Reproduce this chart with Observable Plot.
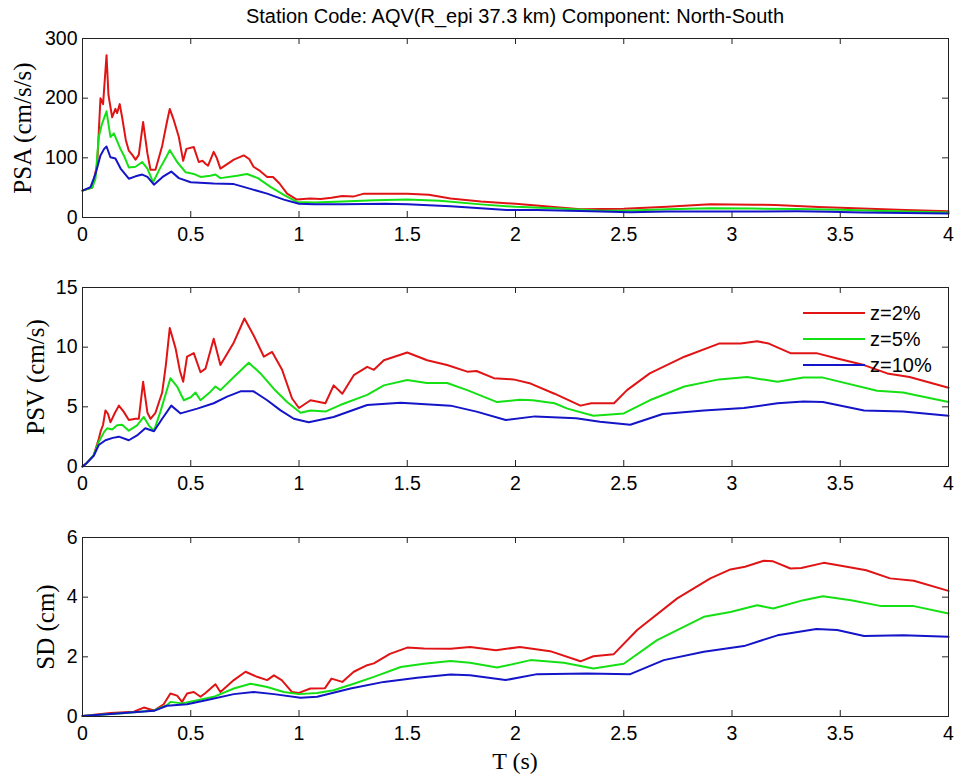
<!DOCTYPE html>
<html>
<head>
<meta charset="utf-8">
<script src="https://cdn.jsdelivr.net/npm/d3@7"></script>
<script src="https://cdn.jsdelivr.net/npm/@observablehq/plot@0.6"></script>
<style>
  body { margin: 0; background: #fff; }
  #wrap { position: relative; width: 955px; height: 778px; background: #fff; overflow: hidden; }
  .panel { position: absolute; left: 0; }
  .ylab { position: absolute; font-family: "Liberation Serif", "Times New Roman", serif; font-size: 25px; white-space: nowrap; transform: translate(-50%, -50%) rotate(-90deg); line-height: 1; color: #000; }
  #title { position: absolute; left: 82px; width: 866px; top: 6px; text-align: center; font-family: "Liberation Sans", Arial, sans-serif; font-size: 20px; line-height: 1; color: #000; white-space: nowrap; }
  #xlab { position: absolute; left: 515px; top: 761px; transform: translate(-50%, -50%); font-family: "Liberation Serif", "Times New Roman", serif; font-size: 24px; line-height: 1; white-space: nowrap; }
</style>
</head>
<body>
<div id="wrap">
  <div id="title">Station Code: AQV(R_epi 37.3 km) Component: North-South</div>
</div>
<script>
// ---------- data ----------
const xTicks = [0, 0.5, 1, 1.5, 2, 2.5, 3, 3.5, 4];
const psaTicks = [0, 100, 200, 300];
const psvTicks = [0, 5, 10, 15];
const sdTicks = [0, 2, 4, 6];
const seriesNames = ["z=2%", "z=5%", "z=10%"];
const seriesColors = ["#e01414", "#14e014", "#1414c8"];
const panelLabels = ["PSA (cm/s/s)", "PSV (cm/s)", "SD (cm)"];
const xLabel = "T (s)";

// PSA (cm/s/s) : [T, value]
const psa2 = [[0,45],[0.045,50],[0.068,90],[0.083,200],[0.095,190],[0.111,272],[0.12,205],[0.137,168],[0.152,182],[0.16,175],[0.172,190],[0.183,168],[0.2,130],[0.214,112],[0.23,105],[0.245,97],[0.26,105],[0.28,160],[0.3,107],[0.314,80],[0.337,80],[0.368,120],[0.39,160],[0.403,182],[0.42,165],[0.445,135],[0.465,95],[0.48,115],[0.514,118],[0.537,93],[0.555,95],[0.568,90],[0.58,87],[0.606,110],[0.62,100],[0.637,82],[0.67,90],[0.699,97],[0.745,104],[0.77,98],[0.79,85],[0.82,78],[0.853,68],[0.88,68],[0.91,57],[0.945,40],[0.99,30],[1.05,32],[1.1,31],[1.15,33],[1.2,36],[1.25,35],[1.3,40],[1.4,40],[1.5,40],[1.6,38],[1.7,32],[1.84,27],[2.0,23],[2.15,18.5],[2.3,14],[2.5,14.6],[2.7,18],[2.9,22],[3.1,21.5],[3.2,21],[3.4,17.6],[3.6,15],[3.8,12.6],[4.0,10.4]];
const psa5 = [[0,45],[0.045,50],[0.06,65],[0.075,135],[0.09,157],[0.111,178],[0.129,135],[0.145,141],[0.16,128],[0.175,115],[0.191,104],[0.214,84],[0.245,85],[0.276,93],[0.3,82],[0.326,59],[0.36,84],[0.385,100],[0.403,113],[0.437,93],[0.476,76],[0.5,74],[0.514,73],[0.545,68],[0.59,70],[0.614,72],[0.637,66],[0.714,70],[0.76,73],[0.81,66],[0.87,51],[0.93,38],[0.99,26],[1.07,25],[1.2,27],[1.35,29],[1.5,30],[1.65,28],[1.84,22],[2.0,18],[2.2,15],[2.4,11.5],[2.5,11.5],[2.7,14],[2.9,15.5],[3.1,15],[3.3,14.2],[3.5,13],[3.7,11],[4.0,8.5]];
const psa10 = [[0,45],[0.037,51],[0.06,73],[0.083,104],[0.1,115],[0.111,119],[0.129,101],[0.152,99],[0.176,82],[0.214,65],[0.245,69],[0.276,72],[0.3,68],[0.33,55],[0.37,68],[0.41,77],[0.445,66],[0.5,59],[0.606,57],[0.699,56],[0.776,48],[0.853,40],[0.93,30],[1.0,23],[1.07,22],[1.2,22],[1.4,23],[1.5,22],[1.7,19],[1.96,12.5],[2.1,12.7],[2.3,11],[2.53,8.7],[2.7,10.2],[2.9,10.2],[3.1,10],[3.3,10.4],[3.45,9.8],[3.6,8.2],[3.8,7.6],[4.0,6.7]];

// PSV (cm/s)
const psv2 = [[0,0],[0.02,0.3],[0.052,0.95],[0.075,2.3],[0.083,2.9],[0.095,3.5],[0.106,4.7],[0.118,4.4],[0.129,3.7],[0.15,4.5],[0.168,5.1],[0.19,4.6],[0.214,3.9],[0.245,4.0],[0.26,4.0],[0.28,7.1],[0.3,4.5],[0.314,4.0],[0.337,4.5],[0.368,6.2],[0.385,8.5],[0.403,11.6],[0.43,9.9],[0.45,8.0],[0.465,7.1],[0.483,9.2],[0.514,9.5],[0.545,7.9],[0.568,8.2],[0.606,10.7],[0.637,8.5],[0.699,10.4],[0.748,12.4],[0.79,11.0],[0.838,9.2],[0.876,9.6],[0.922,8.1],[0.968,5.7],[1.0,4.9],[1.053,5.55],[1.122,5.3],[1.16,6.8],[1.2,6.1],[1.253,7.65],[1.315,8.35],[1.346,8.1],[1.392,8.9],[1.5,9.55],[1.592,8.9],[1.684,8.5],[1.777,7.95],[1.82,8.0],[1.9,7.4],[1.99,7.3],[2.07,6.95],[2.18,6.1],[2.3,5.1],[2.35,5.3],[2.455,5.3],[2.515,6.4],[2.62,7.8],[2.78,9.2],[2.94,10.3],[3.04,10.3],[3.116,10.5],[3.17,10.3],[3.27,9.5],[3.39,9.5],[3.486,9.05],[3.61,8.5],[3.717,7.8],[3.82,7.5],[4.0,6.6]];
const psv5 = [[0,0],[0.02,0.3],[0.052,0.95],[0.075,2.06],[0.1,2.9],[0.114,3.2],[0.137,3.1],[0.16,3.45],[0.183,3.5],[0.214,3.0],[0.252,3.45],[0.283,4.15],[0.306,3.45],[0.33,3.0],[0.36,4.6],[0.406,7.4],[0.437,6.7],[0.468,5.55],[0.5,5.8],[0.522,6.2],[0.545,5.55],[0.59,6.25],[0.614,6.7],[0.637,6.4],[0.699,7.5],[0.768,8.7],[0.822,7.8],[0.884,6.5],[0.945,5.4],[1.007,4.5],[1.053,4.7],[1.122,4.6],[1.19,5.15],[1.315,6.0],[1.392,6.8],[1.5,7.25],[1.59,7.0],[1.684,7.0],[1.777,6.4],[1.915,5.4],[2.02,5.6],[2.08,5.55],[2.18,5.3],[2.24,4.85],[2.36,4.25],[2.5,4.45],[2.62,5.55],[2.78,6.7],[2.94,7.3],[3.07,7.5],[3.21,7.1],[3.33,7.45],[3.42,7.45],[3.67,6.35],[3.79,6.2],[4.0,5.4]];
const psv10 = [[0,0],[0.02,0.3],[0.052,0.9],[0.075,1.8],[0.106,2.2],[0.14,2.4],[0.168,2.5],[0.214,2.2],[0.252,2.6],[0.29,3.2],[0.33,2.95],[0.368,4.0],[0.41,5.1],[0.453,4.45],[0.53,4.85],[0.606,5.3],[0.668,5.85],[0.73,6.3],[0.79,6.3],[0.853,5.55],[0.915,4.7],[0.976,4.0],[1.045,3.7],[1.16,4.15],[1.315,5.15],[1.47,5.35],[1.7,5.1],[1.82,4.6],[1.955,3.9],[2.09,4.2],[2.28,4.05],[2.39,3.75],[2.53,3.5],[2.68,4.4],[2.87,4.7],[3.055,4.9],[3.21,5.3],[3.33,5.45],[3.42,5.4],[3.61,4.7],[3.79,4.6],[4.0,4.25]];

// SD (cm)
const sd2 = [[0,0.02],[0.13,0.12],[0.237,0.16],[0.283,0.3],[0.33,0.2],[0.375,0.41],[0.406,0.77],[0.437,0.7],[0.46,0.49],[0.483,0.77],[0.514,0.82],[0.545,0.66],[0.568,0.79],[0.614,1.08],[0.637,0.82],[0.699,1.22],[0.753,1.5],[0.806,1.33],[0.853,1.22],[0.884,1.38],[0.92,1.22],[0.968,0.82],[0.999,0.79],[1.053,0.94],[1.12,0.95],[1.15,1.27],[1.2,1.16],[1.253,1.5],[1.315,1.72],[1.346,1.78],[1.42,2.1],[1.5,2.31],[1.577,2.28],[1.7,2.27],[1.79,2.33],[1.91,2.22],[2.02,2.33],[2.16,2.19],[2.3,1.85],[2.36,2.02],[2.454,2.09],[2.562,2.9],[2.747,3.96],[2.9,4.63],[2.993,4.93],[3.06,5.02],[3.147,5.22],[3.19,5.2],[3.27,4.96],[3.32,4.98],[3.424,5.15],[3.53,5.02],[3.62,4.9],[3.73,4.63],[3.84,4.55],[4.0,4.21]];
const sd5 = [[0,0.02],[0.2,0.12],[0.33,0.2],[0.39,0.38],[0.406,0.49],[0.46,0.44],[0.514,0.52],[0.606,0.66],[0.699,0.94],[0.776,1.1],[0.853,0.99],[0.93,0.82],[0.999,0.75],[1.084,0.79],[1.16,0.88],[1.253,1.1],[1.346,1.33],[1.47,1.66],[1.577,1.77],[1.7,1.86],[1.79,1.8],[1.915,1.64],[2.07,1.89],[2.223,1.8],[2.36,1.61],[2.5,1.77],[2.654,2.56],[2.87,3.34],[2.993,3.5],[3.116,3.73],[3.19,3.62],[3.33,3.9],[3.42,4.03],[3.55,3.9],[3.69,3.7],[3.84,3.7],[4.0,3.45]];
const sd10 = [[0,0.02],[0.16,0.1],[0.33,0.19],[0.39,0.36],[0.483,0.41],[0.576,0.55],[0.699,0.75],[0.79,0.82],[0.884,0.75],[1.007,0.63],[1.084,0.66],[1.238,0.94],[1.392,1.16],[1.546,1.3],[1.7,1.41],[1.79,1.38],[1.954,1.22],[2.1,1.42],[2.33,1.44],[2.53,1.42],[2.685,1.89],[2.87,2.17],[3.055,2.36],[3.21,2.72],[3.39,2.93],[3.486,2.9],[3.61,2.7],[3.79,2.72],[4.0,2.67]];

// ---------- drawing ----------
const W = 955, ML = 82, MR = 7, MT = 10, MB = 40, FH = 179;
const FW = W - ML - MR;
const TICK = 6;
const wrap = document.getElementById("wrap");

function panel(series, yTicks, frameTop, label, labelX) {
  const yMax = yTicks[yTicks.length - 1];
  const marks = [
    Plot.axisX({ticks: xTicks, tickSize: 0, tickPadding: 10, label: null, tickFormat: d => String(d)}),
    Plot.axisY({ticks: yTicks, tickSize: 0, tickPadding: 5, label: null, tickFormat: d => String(d)}),
    Plot.ruleX(xTicks, {x: d => d, insetBottom: FH - TICK, stroke: "#222"}),
    Plot.ruleX(xTicks, {x: d => d, insetTop: FH - TICK, stroke: "#222"}),
    Plot.ruleY(yTicks, {y: d => d, insetRight: FW - TICK, stroke: "#222"}),
    Plot.ruleY(yTicks, {y: d => d, insetLeft: FW - TICK, stroke: "#222"})
  ];
  series.forEach((s, i) => {
    marks.push(Plot.line(s, {x: d => d[0], y: d => d[1], stroke: seriesColors[i], strokeWidth: 2, curve: "linear"}));
  });
  marks.push(Plot.frame({stroke: "#222", strokeWidth: 1}));
  const svg = Plot.plot({
    width: W, height: MT + FH + MB,
    marginTop: MT, marginBottom: MB, marginLeft: ML, marginRight: MR,
    x: {domain: [0, 4]},
    y: {domain: [0, yMax]},
    style: {fontFamily: '"Liberation Sans", Arial, sans-serif', fontSize: "19.5px", color: "#000", background: "transparent", overflow: "visible"},
    marks
  });
  svg.classList.add("panel");
  svg.style.top = (frameTop - MT) + "px";
  wrap.appendChild(svg);

  const lab = document.createElement("div");
  lab.className = "ylab";
  lab.textContent = label;
  lab.style.left = labelX + "px";
  lab.style.top = (frameTop + FH / 2) + "px";
  wrap.appendChild(lab);
}

panel([psa2, psa5, psa10], psaTicks, 38, panelLabels[0], 22);
panel([psv2, psv5, psv10], psvTicks, 287, panelLabels[1], 35);
panel([sd2, sd5, sd10], sdTicks, 537, panelLabels[2], 45);

// x label
const xl = document.createElement("div");
xl.id = "xlab";
xl.textContent = xLabel;
wrap.appendChild(xl);

// legend (inside PSV panel, top right)
const ns = "http://www.w3.org/2000/svg";
const leg = document.createElementNS(ns, "svg");
leg.setAttribute("width", 140);
leg.setAttribute("height", 80);
leg.style.position = "absolute";
leg.style.left = "800px";
leg.style.top = "300px";
leg.style.overflow = "visible";
seriesNames.forEach((name, i) => {
  const cy = 13 + i * 26;
  const ln = document.createElementNS(ns, "line");
  ln.setAttribute("x1", 3); ln.setAttribute("x2", 65);
  ln.setAttribute("y1", cy); ln.setAttribute("y2", cy);
  ln.setAttribute("stroke", seriesColors[i]);
  ln.setAttribute("stroke-width", 2);
  leg.appendChild(ln);
  const t = document.createElementNS(ns, "text");
  t.setAttribute("x", 70);
  t.setAttribute("y", cy);
  t.setAttribute("dy", "0.35em");
  t.setAttribute("font-family", '"Liberation Sans", Arial, sans-serif');
  t.setAttribute("font-size", "20px");
  t.textContent = name;
  leg.appendChild(t);
});
wrap.appendChild(leg);
</script>
</body>
</html>
